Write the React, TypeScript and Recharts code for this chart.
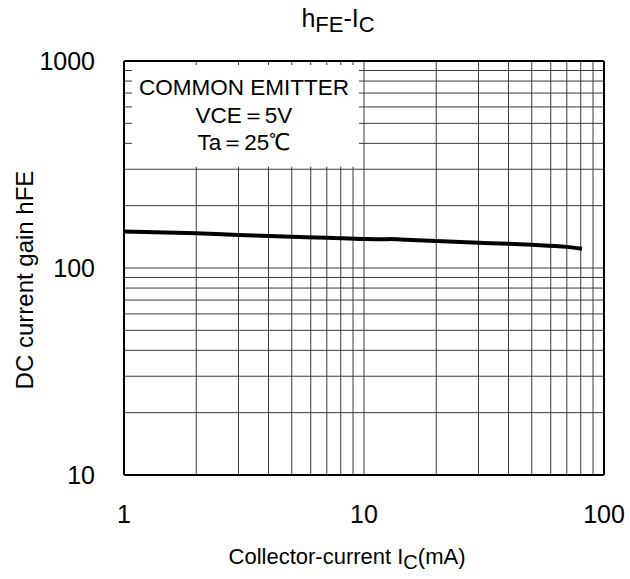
import React from "react";
import { LineChart, Line, XAxis, YAxis, ReferenceLine, ReferenceArea } from "recharts";

const icValues = [1, 2, 3, 5, 7, 10, 12, 13, 15, 20, 30, 40, 50, 70, 81];
const hfeValues = [150, 147, 144.5, 141.5, 140, 138, 137.5, 138, 137, 135, 132.5, 131, 129.5, 126.5, 124];
const xTicks = [1, 10, 100];
const yTicks = [10, 100, 1000];
const xGrid = [2, 3, 4, 5, 6, 7, 8, 9, 10, 20, 30, 40, 50, 60, 70, 80, 90];
const yGrid = [20, 30, 40, 50, 60, 70, 80, 90, 100, 200, 300, 400, 500, 600, 700, 800, 900];
const noteLines = ["COMMON EMITTER", "VCE＝5V", "Ta＝25℃"];

// annotation box region in data units
const boxX = [1, 10];
const boxY = [300, 1000];
const xDomain = [1, 100];
const yDomain = [10, 1000];

const data = icValues.map((ic, i) => ({ ic, hfe: hfeValues[i] }));

const FONT = "'Liberation Sans', Arial, Helvetica, sans-serif";
const GRID = "#3a3a3a";

const frac = (v: number, d: number[]) => Math.log10(v / d[0]) / Math.log10(d[1] / d[0]);

const XTick = (props: any) => (
  <text x={props.x} y={props.y + 40} textAnchor="middle" fontSize={25} fontFamily={FONT} fill="#000">
    {props.payload.value}
  </text>
);
const YTick = (props: any) => (
  <text x={props.x - 21} y={props.y + 9} textAnchor="end" fontSize={25} fontFamily={FONT} fill="#000">
    {props.payload.value}
  </text>
);

const makeVShape = (v: number) => (props: any) => {
  const x = props.x1;
  const top = Math.min(props.y1, props.y2);
  const bottom = Math.max(props.y1, props.y2);
  if (v < boxX[1]) {
    const cut = bottom - (bottom - top) * frac(boxY[0], yDomain);
    return (
      <g>
        <line x1={x} y1={top} x2={x} y2={top + 4} stroke={GRID} strokeWidth={1} />
        <line x1={x} y1={cut - 2.5} x2={x} y2={bottom} stroke={GRID} strokeWidth={1} />
      </g>
    );
  }
  return <line x1={x} y1={top} x2={x} y2={bottom} stroke={GRID} strokeWidth={1} />;
};

const makeHShape = (v: number) => (props: any) => {
  const y = props.y1;
  const left = Math.min(props.x1, props.x2);
  const right = Math.max(props.x1, props.x2);
  if (v > boxY[0]) {
    const cut = left + (right - left) * frac(boxX[1], xDomain);
    return (
      <g>
        <line x1={left} y1={y} x2={left + 8} y2={y} stroke={GRID} strokeWidth={1} />
        <line x1={cut - 5} y1={y} x2={right} y2={y} stroke={GRID} strokeWidth={1} />
      </g>
    );
  }
  return <line x1={left} y1={y} x2={right} y2={y} stroke={GRID} strokeWidth={1} />;
};

const NoteBox = (props: any) => {
  const { x, y } = props;
  const cx = x + 120;
  return (
    <g>
      {noteLines.map((t, i) => (
        <text key={i} x={cx} y={y + 34 + i * 27.5} textAnchor="middle" fontSize={22.5} fontFamily={FONT} fill="#000">
          {t}
        </text>
      ))}
    </g>
  );
};

export default function App() {
  return (
    <div style={{ position: "absolute", left: 0, top: 0, width: 630, height: 579, background: "#fff" }}>
      <LineChart width={630} height={579} data={data} margin={{ top: 61, right: 26, bottom: 0, left: 0 }}>
        <XAxis
          dataKey="ic"
          type="number"
          scale="log"
          domain={xDomain}
          ticks={xTicks}
          allowDataOverflow
          axisLine={false}
          tickLine={false}
          tick={<XTick />}
          height={104}
          interval={0}
        />
        <YAxis
          type="number"
          scale="log"
          domain={yDomain}
          ticks={yTicks}
          allowDataOverflow
          axisLine={false}
          tickLine={false}
          tick={<YTick />}
          width={124}
          interval={0}
        />
        {xGrid.map((v) => (
          <ReferenceLine key={"x" + v} x={v} shape={makeVShape(v)} ifOverflow="hidden" />
        ))}
        {yGrid.map((v) => (
          <ReferenceLine key={"y" + v} y={v} shape={makeHShape(v)} ifOverflow="hidden" />
        ))}
        <ReferenceArea x1={boxX[0]} x2={boxX[1]} y1={boxY[0]} y2={boxY[1]} shape={<NoteBox />} ifOverflow="hidden" />
        <ReferenceLine x={1} stroke="#000" strokeWidth={2} />
        <ReferenceLine x={100} stroke="#000" strokeWidth={2} />
        <ReferenceLine y={10} stroke="#000" strokeWidth={2} />
        <ReferenceLine y={1000} stroke="#000" strokeWidth={2} />
        <Line
          dataKey="hfe"
          type="monotone"
          stroke="#000"
          strokeWidth={4}
          dot={false}
          isAnimationActive={false}
        />
      </LineChart>
      <svg width={630} height={579} style={{ position: "absolute", left: 0, top: 0, pointerEvents: "none" }}>
        <text x={338} y={27} textAnchor="middle" fontSize={25} fontFamily={FONT} fill="#000">
          h<tspan fontSize={22} dy={5}>FE</tspan>
          <tspan dy={-5}>-I</tspan>
          <tspan fontSize={22} dy={5}>C</tspan>
        </text>
        <text
          x={0}
          y={0}
          transform="translate(33,280) rotate(-90)"
          textAnchor="middle"
          fontSize={24}
          fontFamily={FONT}
          fill="#000"
        >
          DC current gain hFE
        </text>
        <text x={347} y={564} textAnchor="middle" fontSize={22} fontFamily={FONT} fill="#000">
          Collector-current I<tspan fontSize={20} dy={5}>C</tspan>
          <tspan dy={-5}>(mA)</tspan>
        </text>
      </svg>
    </div>
  );
}
